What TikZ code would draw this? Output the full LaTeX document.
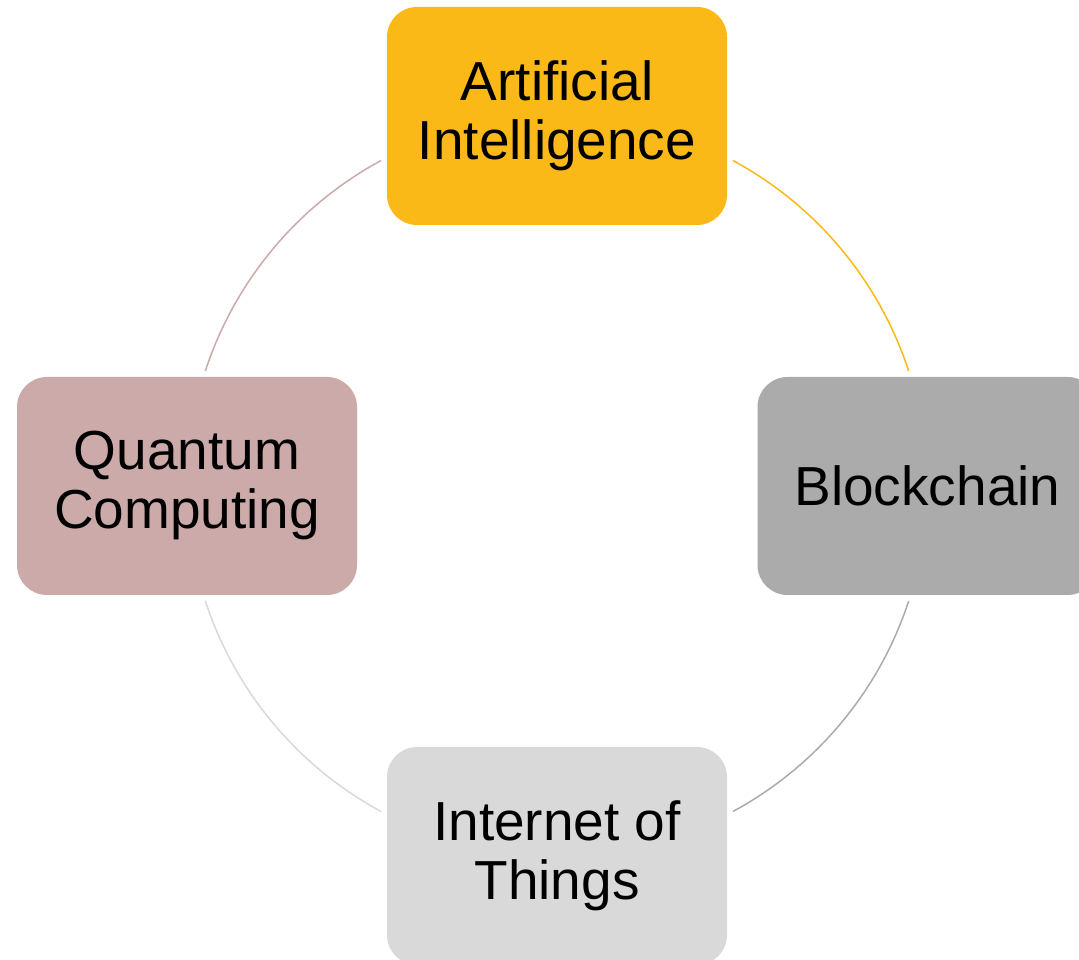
\documentclass[tikz,border=0pt]{standalone}
\usepackage{fontspec}
\setmainfont{Liberation Sans}
\definecolor{aiFill}{HTML}{FBB917}
\definecolor{chainFill}{HTML}{ABABAB}
\definecolor{iotFill}{HTML}{D9D9D9}
\definecolor{quantFill}{HTML}{CCAAA9}
\begin{document}
\begin{tikzpicture}[x=1pt,y=1pt,
  card/.style={rectangle, rounded corners=30pt, minimum width=340pt,
    minimum height=218pt, inner sep=0pt, align=center,
    font=\fontsize{55}{59}\selectfont},
  link/.style={line width=1.5pt}]
\useasboundingbox (0,0) rectangle (1079,960);
\clip (0,0) rectangle (1079,960);
\coordinate (hub) at (557,474);

% the four topic cards around the cycle
\node[card, fill=aiFill]    (ai)    at (557,844)   {Artificial\\Intelligence};
\node[card, fill=chainFill] (chain) at (927.5,474) {Blockchain};
\node[card, fill=iotFill]   (iot)   at (557,104)   {Internet of\\Things};
\node[card, fill=quantFill] (quant) at (187,474)   {Quantum\\Computing};

% arc end points on the ring, just clear of the cards
\path (hub) ++(61.6:370)   coordinate (ai-out);
\path (hub) ++(18.1:370)   coordinate (chain-in);
\path (hub) ++(-18.1:370)  coordinate (chain-out);
\path (hub) ++(-61.6:370)  coordinate (iot-in);
\path (hub) ++(-118.4:370) coordinate (iot-out);
\path (hub) ++(-161.9:370) coordinate (quant-in);
\path (hub) ++(161.9:370)  coordinate (quant-out);
\path (hub) ++(118.4:370)  coordinate (ai-in);

% ring segments, each in the colour of the card it leaves
\draw[link, draw=aiFill]    (ai-out)    arc[start angle=61.6,   end angle=18.1,   radius=370];
\draw[link, draw=chainFill] (chain-out) arc[start angle=-18.1,  end angle=-61.6,  radius=370];
\draw[link, draw=iotFill]   (iot-out)   arc[start angle=-118.4, end angle=-161.9, radius=370];
\draw[link, draw=quantFill] (quant-out) arc[start angle=161.9,  end angle=118.4,  radius=370];
\end{tikzpicture}
\end{document}
